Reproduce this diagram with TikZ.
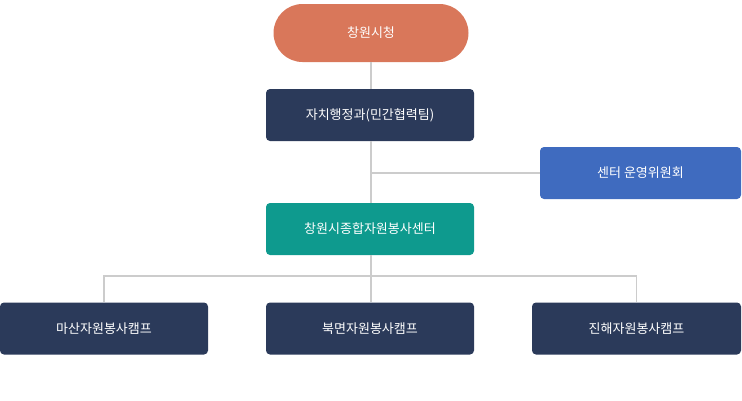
\documentclass[tikz,border=0pt]{standalone}
\usepackage{fontspec}
\setmainfont{Noto Sans CJK KR}
\usetikzlibrary{positioning}
\definecolor{topred}{HTML}{D9775A}
\definecolor{navy}{HTML}{2B3A5A}
\definecolor{bluebox}{HTML}{3F6BBF}
\definecolor{teal}{HTML}{0E9A8E}
\definecolor{linegray}{HTML}{CCCCCC}

\begin{document}
\begin{tikzpicture}[x=1pt, y=-1pt,
  box/.style={rectangle, rounded corners=4pt, minimum height=52pt, text=white, font=\fontsize{13}{15}\selectfont},
  link/.style={draw=linegray, line width=1.2pt}]
  \useasboundingbox (0, 0) rectangle (742, 400);

  \node[box, fill=topred, rounded corners=29pt, minimum width=195pt, minimum height=58pt] (city) at (371, 33) {창원시청};
  \node[box, fill=navy, minimum width=208pt] (dept) at (370, 115) {자치행정과(민간협력팀)};
  \node[box, fill=bluebox, minimum width=201pt] (comm) at (640.5, 173) {센터 운영위원회};
  \node[box, fill=teal, minimum width=208pt] (center) at (370, 229) {창원시종합자원봉사센터};
  \node[box, fill=navy, minimum width=208pt] (masan) at (104, 328.5) {마산자원봉사캠프};
  \node[box, fill=navy, minimum width=208pt] (bukmyeon) at (370, 328.5) {북면자원봉사캠프};
  \node[box, fill=navy, minimum width=209pt] (jinhae) at (636.5, 328.5) {진해자원봉사캠프};

  \coordinate (mid) at (371, 173);
  \coordinate (split) at (371, 276);

  \begin{scope}[on background layer/.try]
  \end{scope}
  \draw[link] (city.south -| mid) -- (dept.north -| mid);
  \draw[link] (dept.south -| mid) -- (center.north -| mid);
  \draw[link] (mid) -- (comm.west);
  \draw[link] (center.south -| mid) -- (split);
  \draw[link] (masan.north) |- (split);
  \draw[link] (jinhae.north) |- (split);
  \draw[link] (split) -- (bukmyeon.north -| split);
\end{tikzpicture}
\end{document}
